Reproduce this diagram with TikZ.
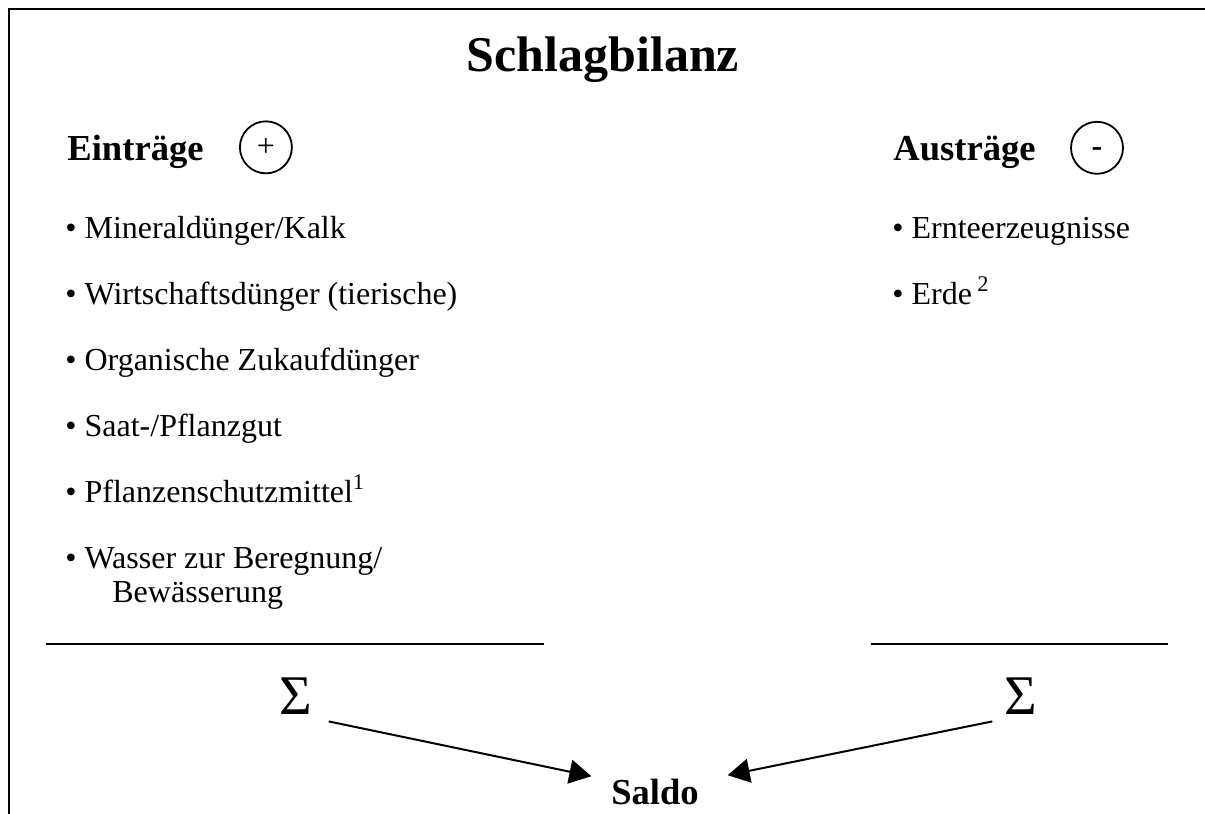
\documentclass[tikz,border=0pt]{standalone}
\usepackage{fontspec}
\setmainfont{Liberation Serif}
\usepackage{tikz}
\usetikzlibrary{
  arrows.meta,
  positioning
}
\tikzset{
  titlebox/.style={inner sep=0pt, anchor=base,
    font=\fontsize{25}{30}\selectfont\bfseries},
  headbox/.style={inner sep=0pt, anchor=base west,
    font=\fontsize{18.3}{22}\selectfont\bfseries},
  signbox/.style={draw, circle, line width=0.9pt,
    minimum size=26pt, inner sep=0pt,
    font=\fontsize{16}{19}\selectfont},
  itembox/.style={inner sep=0pt, anchor=base west,
    font=\fontsize{16}{19}\selectfont},
  sumbox/.style={inner sep=0pt, anchor=base,
    font=\fontsize{28}{32}\selectfont},
  arr/.style={-{Triangle[length=11pt, width=12pt]}, line width=1pt},
}

\begin{document}
\begin{tikzpicture}[
  x=0.5pt, y=-0.5pt,
  frame/.style={line width=1.3pt},
  rule/.style={line width=1pt}
]
  \useasboundingbox (0,0) rectangle (1205,814);

  % Frame (open at right and bottom)
  \draw[frame] (9,814) -- (9,9) -- (1205,9);

  % Title
  \node[titlebox] (title) at (603,71) {Schlagbilanz};

  % Inputs
  \node[headbox] (ein) at (67,160) {Einträge};
  \node[signbox, right=17.5pt of ein, yshift=2pt] (plus) {+};
  \node[itembox] (ein1) at (65,238) {\textbullet{} Mineraldünger/Kalk};
  \node[itembox] (ein2) at (65,304) {\textbullet{} Wirtschaftsdünger (tierische)};
  \node[itembox] (ein3) at (65,370) {\textbullet{} Organische Zukaufdünger};
  \node[itembox] (ein4) at (65,436) {\textbullet{} Saat-/Pflanzgut};
  \node[itembox] (ein5) at (65,502)
    {\textbullet{} Pflanzenschutzmittel\textsuperscript{1}};
  \node[itembox] (ein6) at (65,568) {\textbullet{} Wasser zur Beregnung/};
  \node[itembox] (ein6b) at (112,602) {Bewässerung};

  % Outputs
  \node[headbox] (aus) at (893,160) {Austräge};
  \node[signbox, right=17pt of aus, yshift=2pt] (minus) {\vphantom{+}\textbf{-}};
  \node[itembox] (aus1) at (892,238) {\textbullet{} Ernteerzeugnisse};
  \node[itembox] (aus2) at (892,304) {\textbullet{} Erde\,\textsuperscript{2}};

  % Sums
  \draw[rule] (46,644) -- (544,644);
  \draw[rule] (871,644) -- (1168,644);
  \node[sumbox] (sumein) at (296,714) {Σ};
  \node[sumbox] (sumaus) at (1021,714) {Σ};

  % Balance
  \node[headbox, anchor=base] (saldo) at (655,804) {Saldo};
  \draw[arr] ([shift={(16,7)}]sumein.south east)
    -- ([shift={(-19.5,-2)}]saldo.north west);
  \draw[arr] ([shift={(-12,7)}]sumaus.south west)
    -- ([shift={(28.5,-3)}]saldo.north east);
\end{tikzpicture}
\end{document}
